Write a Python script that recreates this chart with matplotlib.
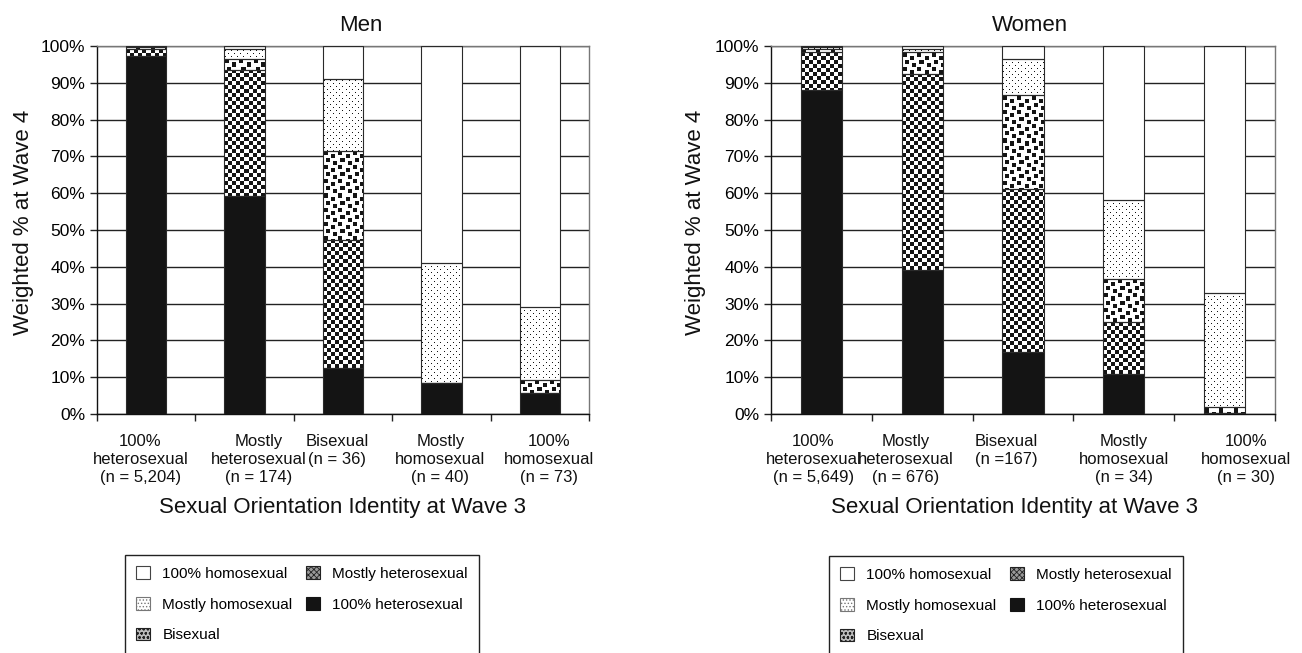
import numpy as np
import matplotlib
matplotlib.use('Agg')
import matplotlib.pyplot as plt
from matplotlib.patches import Patch
from matplotlib.transforms import blended_transform_factory

plt.rcParams['font.family'] = ['Liberation Sans', 'DejaVu Sans']
plt.rcParams['hatch.linewidth'] = 0.6

# stacking order: bottom -> top
series = ['100% heterosexual', 'Mostly heterosexual', 'Bisexual',
          'Mostly homosexual', '100% homosexual']

# Men, Wave 3 identity groups (weighted % at Wave 4)
men_het100 = [97.3, 59.2, 12.6, 8.3, 5.6]
men_mostly_het = [2.0, 34.4, 34.8, 0.0, 0.0]
men_bisexual = [0.4, 3.0, 24.2, 0.0, 3.7]
men_mostly_homo = [0.2, 2.7, 19.3, 32.7, 19.9]
men_homo100 = [0.1, 0.7, 9.1, 59.0, 70.8]

# Women
women_het100 = [88.1, 39.2, 16.8, 10.9, 0.4]
women_mostly_het = [10.3, 53.3, 44.4, 14.0, 0.0]
women_bisexual = [0.9, 5.9, 25.4, 11.8, 1.4]
women_mostly_homo = [0.5, 0.9, 10.0, 21.5, 31.1]
women_homo100 = [0.2, 0.7, 3.4, 41.8, 67.1]

men_ticklabels = ['100%\nheterosexual\n(n = 5,204)', 'Mostly\nheterosexual\n(n = 174)',
                  'Bisexual\n(n = 36)', 'Mostly\nhomosexual\n(n = 40)',
                  '100%\nhomosexual\n(n = 73)']
women_ticklabels = ['100%\nheterosexual\n(n = 5,649)', 'Mostly\nheterosexual\n(n = 676)',
                    'Bisexual\n(n =167)', 'Mostly\nhomosexual\n(n = 34)',
                    '100%\nhomosexual\n(n = 30)']

# label centres as nudges from the category centre (the original is a bit ragged)
men_label_shift = [-0.06, 0.14, -0.06, -0.01, 0.09]
women_label_shift = [-0.08, -0.16, -0.17, 0.0, 0.21]

textures = ['solid', 'checker', 'squares', 'dots', 'blank']
BLACK = '#141414'


def make_texture(kind, h, w):
    yy, xx = np.mgrid[0:h, 0:w]
    if kind == 'checker':
        on = ((yy // 4 + xx // 4) % 2 == 0)
    elif kind == 'dots':
        on = ((yy % 6 == 1) & (xx % 6 == 1)) | ((yy % 6 == 4) & (xx % 6 == 4))
    elif kind == 'squares':
        tile = np.zeros((14, 14), bool)
        for r, c in [(1, 1), (4, 8), (8, 3), (11, 10)]:
            for dr in range(4):
                for dc in range(4):
                    tile[(r + dr) % 14, (c + dc) % 14] = True
        on = tile[yy % 14, xx % 14]
    elif kind == 'solid':
        on = np.ones((h, w), bool)
    else:
        on = np.zeros((h, w), bool)
    return np.where(on, 0.08, 1.0)


def draw_panel(ax, title, stacks, ticklabels, shifts, title_x, xlabel_x):
    x = np.arange(5)
    width = 0.41
    ax.set_xlim(-0.5, 4.5)
    ax.set_ylim(0, 100)
    bottom = np.zeros(5)
    for vals, kind in zip(stacks, textures):
        vals = np.array(vals)
        bars = ax.bar(x, vals, width, bottom=bottom, color='white',
                      edgecolor='none', zorder=2)
        for rect in bars:
            if rect.get_height() <= 0:
                continue
            x0, y0 = rect.get_x(), rect.get_y()
            x1, y1 = x0 + rect.get_width(), y0 + rect.get_height()
            p0 = ax.transData.transform((x0, y0))
            p1 = ax.transData.transform((x1, y1))
            w_px = max(1, int(round(p1[0] - p0[0])))
            h_px = max(1, int(round(p1[1] - p0[1])))
            img = make_texture(kind, h_px, w_px)
            ax.imshow(img, cmap='gray', vmin=0, vmax=1, extent=(x0, x1, y0, y1),
                      origin='upper', interpolation='nearest', aspect='auto', zorder=2.5)
        ax.bar(x, vals, width, bottom=bottom, color='none', edgecolor='#2a2a2a',
               linewidth=0.8, zorder=3)
        bottom = bottom + vals
    ax.set_xlim(-0.5, 4.5)
    ax.set_ylim(0, 100)

    ax.set_yticks(np.arange(0, 101, 10))
    ax.set_yticklabels([f'{v}%' for v in range(0, 101, 10)], fontsize=12.5)
    ax.set_xticks(np.arange(-0.5, 5, 1))
    ax.set_xticklabels([])
    ax.tick_params(axis='both', direction='out', length=5, width=1, color='#222')
    ax.set_axisbelow(True)
    ax.yaxis.grid(True, color='#222', linewidth=1.0)
    for side in ['left', 'bottom']:
        ax.spines[side].set_color('#111')
        ax.spines[side].set_linewidth(1.0)
    for side in ['right', 'top']:
        ax.spines[side].set_color('#777')
        ax.spines[side].set_linewidth(1.0)

    trans = blended_transform_factory(ax.transData, ax.transAxes)
    for i, lab in enumerate(ticklabels):
        ax.text(i + shifts[i], -0.055, lab, transform=trans, ha='center', va='top',
                fontsize=12, linespacing=1.25, color='#111')

    ax.text(title_x, 1.057, title, transform=ax.transAxes, ha='center', va='center',
            fontsize=16, color='#111')
    ax.text(xlabel_x, -0.255, 'Sexual Orientation Identity at Wave 3', transform=ax.transAxes,
            ha='center', va='center', fontsize=16, color='#111')
    ax.text(-0.15, 0.52, 'Weighted % at Wave 4', transform=ax.transAxes, rotation=90,
            ha='center', va='center', fontsize=16, color='#111')


fig = plt.figure(figsize=(13.02, 6.53), dpi=100)
ax_men = fig.add_axes([97 / 1302, 1 - 414 / 653, 492 / 1302, 368 / 653])
ax_women = fig.add_axes([771 / 1302, 1 - 414 / 653, 504 / 1302, 368 / 653])

draw_panel(ax_men, 'Men',
           [men_het100, men_mostly_het, men_bisexual, men_mostly_homo, men_homo100],
           men_ticklabels, men_label_shift, 0.537, 0.498)
draw_panel(ax_women, 'Women',
           [women_het100, women_mostly_het, women_bisexual, women_mostly_homo, women_homo100],
           women_ticklabels, women_label_shift, 0.514, 0.484)

# legend handles (hatches stand in for the bar textures)
handle_styles = {
    '100% homosexual': dict(facecolor='white', edgecolor='#444'),
    'Mostly homosexual': dict(facecolor='white', edgecolor='#777', hatch='.....'),
    'Bisexual': dict(facecolor='#bbbbbb', edgecolor='#222', hatch='oooo'),
    'Mostly heterosexual': dict(facecolor='#999999', edgecolor='#222', hatch='xxxxxx'),
    '100% heterosexual': dict(facecolor=BLACK, edgecolor=BLACK),
}
legend_order = ['100% homosexual', 'Mostly homosexual', 'Bisexual',
                'Mostly heterosexual', '100% heterosexual']
handles = [Patch(label=name, linewidth=0.8, **handle_styles[name]) for name in legend_order]

for left, top in [(125, 555), (829, 556)]:
    leg = fig.legend(handles=handles, loc='upper left',
                     bbox_to_anchor=(left / 1302, 1 - top / 653), ncol=2,
                     fontsize=11, frameon=True, fancybox=False, framealpha=1,
                     edgecolor='#222', borderpad=0.75, labelspacing=1.05,
                     handlelength=0.9, handleheight=0.9, handletextpad=0.8,
                     columnspacing=0.9, borderaxespad=0)
    leg.get_frame().set_linewidth(1.0)

fig.savefig('out.png', dpi=100)
